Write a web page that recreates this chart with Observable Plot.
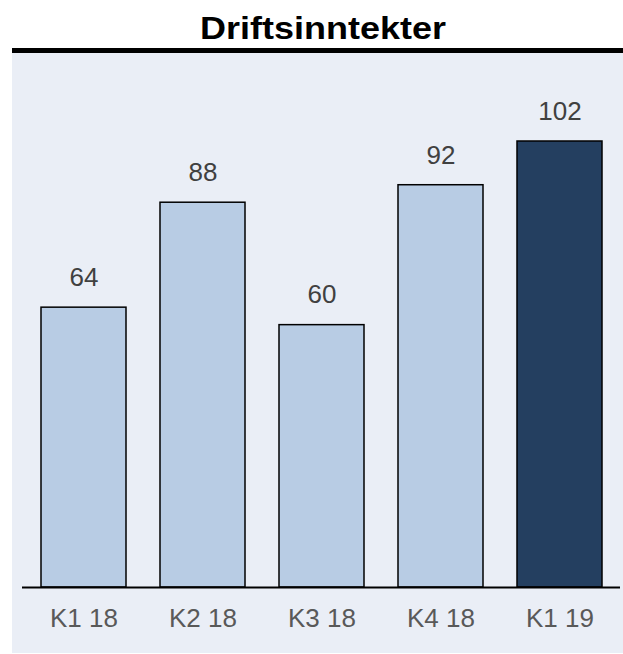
<!DOCTYPE html>
<html>
<head>
<meta charset="utf-8">
<script src="https://cdn.jsdelivr.net/npm/d3@7"></script>
<script src="https://cdn.jsdelivr.net/npm/@observablehq/plot@0.6"></script>
<style>
  html, body { margin: 0; padding: 0; background: #ffffff; }
  #title {
    height: 48px; width: 623px; text-align: center;
    box-sizing: border-box; padding-top: 9px; padding-left: 23px;
  }
  #title span {
    display: inline-block;
    font-family: "Liberation Sans", Arial, sans-serif; font-weight: bold;
    font-size: 36px; line-height: 36px; color: #000;
    transform: scale(1, 0.89); transform-origin: 50% 30.5px;
  }
  #panel {
    margin-left: 12px; width: 611px; background: #eaeef6;
    border-top: 5px solid #000;
  }
  #panel svg { display: block; }
</style>
</head>
<body>
<div id="title"><span>Driftsinntekter</span></div>
<div id="panel"></div>
<script>
const categories = ["K1 18", "K2 18", "K3 18", "K4 18", "K1 19"];
const values = [64, 88, 60, 92, 102];
const highlighted = "K1 19";

const data = categories.map((c, i) => ({cat: c, value: values[i]}));
const font = "Liberation Sans, Arial, sans-serif";

const chart = Plot.plot({
  width: 611,
  height: 600,
  marginLeft: 10,
  marginRight: 3,
  marginTop: 88,
  marginBottom: 66,
  style: {background: "transparent", fontFamily: font},
  x: {domain: categories, paddingInner: 0.287, paddingOuter: 0.151, axis: null},
  y: {domain: [0, 102], axis: null},
  marks: [
    Plot.barY(data, {
      x: "cat", y: "value",
      fill: d => d.cat === highlighted ? "#243f60" : "#b8cce4",
      stroke: "#000", strokeWidth: 1.5
    }),
    Plot.ruleY([0], {stroke: "#000", strokeWidth: 2}),
    Plot.text(data, {
      x: "cat", y: "value", text: d => String(d.value),
      dy: -30, fontSize: 26, fill: "#404040", fontFamily: font
    }),
    Plot.text(data, {
      x: "cat", y: () => 0, text: "cat",
      dy: 31, fontSize: 26, fill: "#595959", fontFamily: font
    })
  ]
});
document.getElementById("panel").appendChild(chart);
</script>
</body>
</html>
